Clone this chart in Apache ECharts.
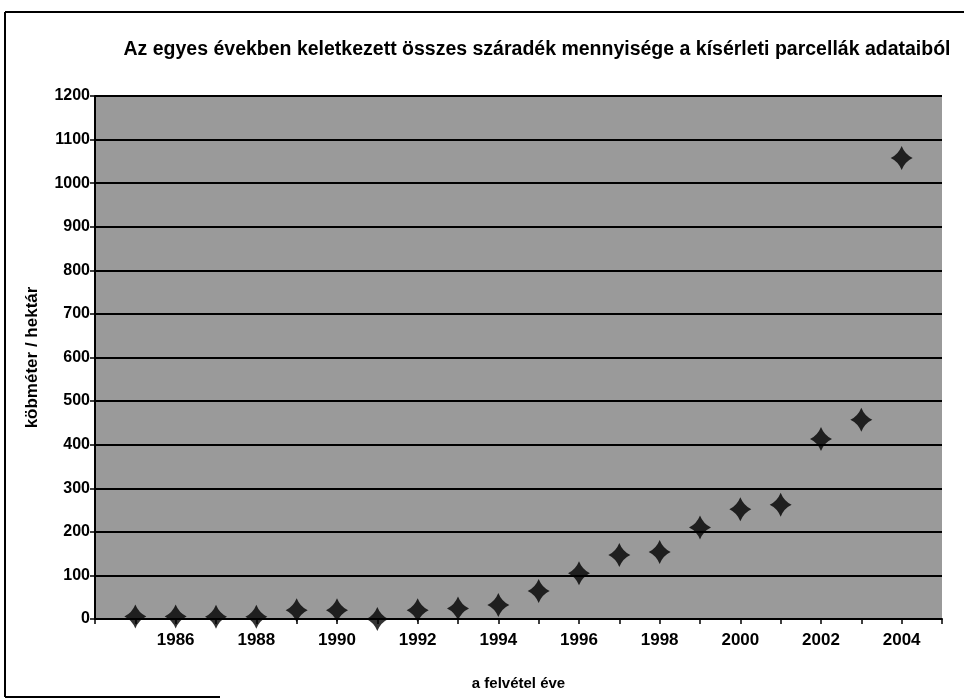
<!DOCTYPE html>
<html>
<head>
<meta charset="utf-8">
<script src="https://cdn.jsdelivr.net/npm/echarts@6/dist/echarts.min.js"></script>
<style>
  html, body { margin: 0; padding: 0; background: #fff; }
  #chart { width: 964px; height: 700px; }
</style>
</head>
<body>
<div id="chart"></div>
<script>
// data
const years = [1985, 1986, 1987, 1988, 1989, 1990, 1991, 1992, 1993, 1994,
  1995, 1996, 1997, 1998, 1999, 2000, 2001, 2002, 2003, 2004];
const volumes = [6, 6, 5, 5, 20, 20, 0, 20, 24, 32,
  64, 105, 147, 154, 210, 252, 262, 413, 457, 1058];

const titleText = "Az egyes években keletkezett összes száradék mennyisége a kísérleti parcellák adataiból";
const xName = "a felvétel éve";
const yName = "köbméter / hektár";

const font = "'Liberation Sans', Arial, sans-serif";
// four pointed star marker, a bit plump like the scan
const star = "path://M0,-10 Q3,-3 10,0 Q3,3 0,10 Q-3,3 -10,0 Q-3,-3 0,-10Z";

const chart = echarts.init(document.getElementById("chart"));

chart.setOption({
  animation: false,
  backgroundColor: "#fff",
  title: {
    text: titleText,
    left: 532,
    top: 35,
    textAlign: "center",
    textStyle: { fontFamily: font, fontWeight: "bold", fontSize: 19.5, color: "#000" },
  },
  grid: {
    left: 95,
    right: 22,
    top: 96,
    bottom: 81,
    show: true,
    backgroundColor: "#9a9a9a",
    borderWidth: 0,
  },
  xAxis: {
    type: "value",
    min: 1984,
    max: 2005,
    interval: 1,
    name: xName,
    nameLocation: "middle",
    nameGap: 57,
    nameTextStyle: { fontFamily: font, fontWeight: "bold", fontSize: 15, color: "#000" },
    axisLine: { lineStyle: { color: "#000", width: 2 } },
    axisTick: { show: true, length: 5, lineStyle: { color: "#000", width: 1.5 } },
    axisLabel: {
      fontFamily: font,
      fontWeight: "bold",
      fontSize: 17,
      color: "#000",
      margin: 13,
      formatter: (v) => (v % 2 === 0 && v !== 1984 ? String(v) : ""),
    },
    splitLine: { show: false },
  },
  yAxis: {
    type: "value",
    min: 0,
    max: 1200,
    interval: 100,
    name: yName,
    nameLocation: "middle",
    nameGap: 54,
    nameTextStyle: { fontFamily: font, fontWeight: "bold", fontSize: 17, color: "#000" },
    axisLine: { show: true, lineStyle: { color: "#000", width: 2 } },
    axisTick: { show: true, length: 5, lineStyle: { color: "#000", width: 1.5 } },
    axisLabel: {
      fontFamily: font,
      fontWeight: "bold",
      fontSize: 16,
      color: "#000",
      margin: 5,
      formatter: (v) => String(v),
    },
    splitLine: { show: true, lineStyle: { color: "#000", width: 2 } },
  },
  series: [
    {
      type: "scatter",
      data: years.map((y, i) => [y, volumes[i]]),
      symbol: star,
      symbolSize: [22, 24],
      itemStyle: { color: "#000" },
    },
  ],
  graphic: [
    { type: "line", shape: { x1: 5, y1: 12, x2: 964, y2: 12 }, style: { stroke: "#000", lineWidth: 2 } },
    { type: "line", shape: { x1: 5, y1: 12, x2: 5, y2: 697 }, style: { stroke: "#000", lineWidth: 2 } },
    { type: "line", shape: { x1: 5, y1: 697, x2: 220, y2: 697 }, style: { stroke: "#000", lineWidth: 2 } },
  ],
});
</script>
</body>
</html>
